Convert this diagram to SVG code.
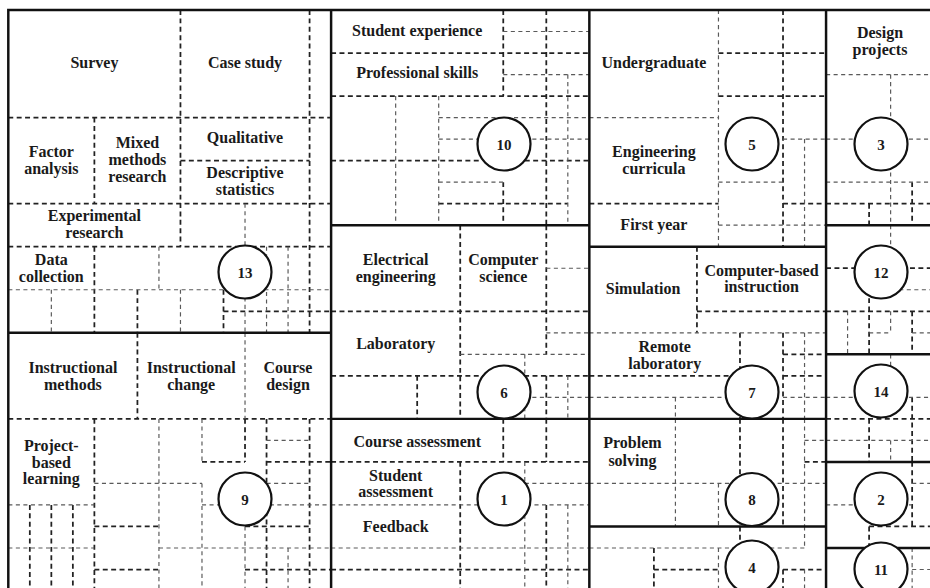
<svg xmlns="http://www.w3.org/2000/svg" width="930" height="588" viewBox="0 0 930 588">
<style>
.k{fill:none;stroke:#111;stroke-width:0.115;stroke-linecap:square}
.d{fill:none;stroke:#222;stroke-width:0.082;stroke-dasharray:0.23 0.16}
.t{fill:none;stroke:#5a5a5a;stroke-width:0.055;stroke-dasharray:0.19 0.16}
.c{fill:#fff;stroke:#111;stroke-width:2.2}
text{font-family:"Liberation Serif","Times New Roman",serif;font-weight:bold;font-size:16px;fill:#1a1a1a;text-anchor:middle}
text.n{font-size:15px}
</style>
<rect width="930" height="588" fill="#fff"/>
<g id="lines" transform="translate(8.3 10) scale(21.52)">
<g id="region-13-lines">
<path class="d" d="M0 5H15M8 7H14M0 9H15M0 11H15M10 14H15M4 5V9M8 0V11M14 0V15M4 11V15M6 13V15M10 13V15"/>
<path class="t" d="M0 13H15M7 11V13M2 13V15M8 13V15M11 9V11M11 13V15M12 11V15M13 11V15"/>
</g>
<g id="region-9-lines">
<path class="d" d="M6 15V19M0 19H15M9 21H11M12 21H15M4 24H7M11 24H14M4 26H7M11 26H15M4 19V27M12 19V27M14 19V27M1 23V27M2 23V27M3 23V27M11 19V21"/>
<path class="t" d="M11 15V19M12 20H14M4 22H9M12 22H14M0 23H4M9 23H15M0 25H4M7 25H15M7 19V27M9 19V21M9 22V27M13 25V27M11 24V27"/>
</g>
<g id="region-10-lines">
<path class="d" d="M15 2H27M15 4H27M15 7H22M24 7H27M20 9H26M23 0V4M23 8V10M25 0V10"/>
<path class="t" d="M23 1H27M23 3H27M20 5H27M20 6H22M24 6H27M20 8H23M18 4V10M20 4V10M26 3V10"/>
</g>
<g id="region-6-lines">
<path class="d" d="M15 14H27M15 17H27M21 10V19M25 10V16M25 17V19M19 17V19"/>
<path class="t" d="M25 12H27M25 15H27M21 16H27M24 18H27M24 16V19M26 17V19"/>
</g>
<g id="region-1-lines">
<path class="d" d="M23 19V21M25 19V21M15 21H27M21 21V27M25 23V27M15 26H27"/>
<path class="t" d="M24 22H27M15 23H27M15 25H27M24 21V27M26 23V27"/>
</g>
<g id="region-5-lines">
<path class="d" d="M36 0V11M33 2H38M33 4H38M27 9H33M36 9H38"/>
<path class="t" d="M33 0V11M37 6V11M27 5H33M36 6H38M33 8H36M33 10H38"/>
</g>
<g id="region-7-lines">
<path class="d" d="M32 11V15M32 14H38M34 15V19M36 15V19M36 16H38M27 17H34M36 17H38"/>
<path class="t" d="M27 15H38M37 15V19M27 18H34M36 18H38M31 18V19"/>
</g>
<g id="region-8-lines">
<path class="d" d="M34 19V24M36 19V24M37 21H38"/>
<path class="t" d="M31 19V24M37 19V24M37 20H38M27 22H38M33 22V24"/>
</g>
<g id="region-4-lines">
<path class="d" d="M34 24V25M30 25V27M30 26H33M36 26H38M36 26V27"/>
<path class="t" d="M27 25H37M37 24V25M37 26V27M33 25V27"/>
</g>
<g id="region-3-lines">
<path class="d" d="M38 9H43M42 8V10M40 9V10"/>
<path class="t" d="M38 3H43M41 3V10M38 6H43M38 8H43"/>
</g>
<g id="region-12-lines">
<path class="d" d="M38 12H43M38 14H43M40 13V16M42 14V16"/>
<path class="t" d="M41 10V11M40 13H43M39 14V16M41 14V15M40 15H41M42 15H43"/>
</g>
<g id="region-14-lines">
<path class="d" d="M42 18V21M38 19H43M40 19V21"/>
<path class="t" d="M41 16V17M38 18H43M38 20H43M41 20V21"/>
</g>
<g id="region-2-lines">
<path class="d" d="M42 21V24M40 24H43M40 24V25"/>
<path class="t" d="M42 22H43M38 23H42"/>
</g>
<g id="region-11-lines">
<path class="t" d="M42 25V27M42 26H43"/>
</g>
<path id="borders" class="k" d="M0 0H43M0 0V27M15 0V27M27 0V27M38 0V27M0 15H15M15 10H27M15 19H27M27 11H38M27 19H38M27 24H38M38 10H43M38 16H43M38 21H43M38 25H43"/>
</g>

<g id="region-13">
<text x="94.4" y="68">Survey</text>
<text x="245" y="68">Case study</text>
<text x="51.3" y="157">Factor</text><text x="51.3" y="174">analysis</text>
<text x="137.4" y="148">Mixed</text><text x="137.4" y="165">methods</text><text x="137.4" y="182">research</text>
<text x="245" y="143">Qualitative</text>
<text x="245" y="178">Descriptive</text><text x="245" y="195">statistics</text>
<text x="94.4" y="221">Experimental</text><text x="94.4" y="238">research</text>
<text x="51.3" y="265">Data</text><text x="51.3" y="282">collection</text>
<circle class="c" cx="245" cy="272" r="26.5"/><text class="n" x="245" y="277.5">13</text>
</g>
<g id="region-9">
<text x="72.9" y="373">Instructional</text><text x="72.9" y="390">methods</text>
<text x="191.2" y="373">Instructional</text><text x="191.2" y="390">change</text>
<text x="288" y="373">Course</text><text x="288" y="390">design</text>
<text x="51.3" y="451">Project-</text><text x="51.3" y="468">based</text><text x="51.3" y="484">learning</text>
<circle class="c" cx="245" cy="499" r="26.5"/><text class="n" x="245" y="504.5">9</text>
</g>
<g id="region-10">
<text x="417.2" y="36">Student experience</text>
<text x="417.2" y="78">Professional skills</text>
<circle class="c" cx="504" cy="144" r="26.5"/><text class="n" x="504" y="149.5">10</text>
</g>
<g id="region-6">
<text x="395.7" y="265">Electrical</text><text x="395.7" y="282">engineering</text>
<text x="503.3" y="265">Computer</text><text x="503.3" y="282">science</text>
<text x="395.7" y="349">Laboratory</text>
<circle class="c" cx="504" cy="392" r="26.5"/><text class="n" x="504" y="397.5">6</text>
</g>
<g id="region-1">
<text x="417.2" y="447">Course assessment</text>
<text x="395.7" y="481">Student</text><text x="395.7" y="497">assessment</text>
<text x="395.7" y="532">Feedback</text>
<circle class="c" cx="504" cy="499" r="26.5"/><text class="n" x="504" y="504.5">1</text>
</g>
<g id="region-5">
<text x="653.9" y="68">Undergraduate</text>
<text x="653.9" y="157">Engineering</text><text x="653.9" y="174">curricula</text>
<text x="653.9" y="230">First year</text>
<circle class="c" cx="752" cy="144" r="26.5"/><text class="n" x="752" y="149.5">5</text>
</g>
<g id="region-7">
<text x="643.1" y="294">Simulation</text>
<text x="761.5" y="275.5">Computer-based</text><text x="761.5" y="292">instruction</text>
<text x="664.7" y="352">Remote</text><text x="664.7" y="369">laboratory</text>
<circle class="c" cx="752" cy="392" r="26.5"/><text class="n" x="752" y="397.5">7</text>
</g>
<g id="region-8">
<text x="632.4" y="448">Problem</text><text x="632.4" y="466">solving</text>
<circle class="c" cx="752" cy="499.5" r="26.5"/><text class="n" x="752" y="505">8</text>
</g>
<g id="region-4">
<circle class="c" cx="752" cy="567" r="26.5"/><text class="n" x="752" y="572.5">4</text>
</g>
<g id="region-3">
<text x="880" y="38">Design</text><text x="880" y="55">projects</text>
<circle class="c" cx="881" cy="144" r="26.5"/><text class="n" x="881" y="149.5">3</text>
</g>
<g id="region-12">
<circle class="c" cx="881" cy="272" r="26.5"/><text class="n" x="881" y="277.5">12</text>
</g>
<g id="region-14">
<circle class="c" cx="881" cy="391" r="26.5"/><text class="n" x="881" y="396.5">14</text>
</g>
<g id="region-2">
<circle class="c" cx="881" cy="499" r="26.5"/><text class="n" x="881" y="504.5">2</text>
</g>
<g id="region-11">
<circle class="c" cx="881" cy="569" r="26.5"/><text class="n" x="881" y="574.5">11</text>
</g>
</svg>
